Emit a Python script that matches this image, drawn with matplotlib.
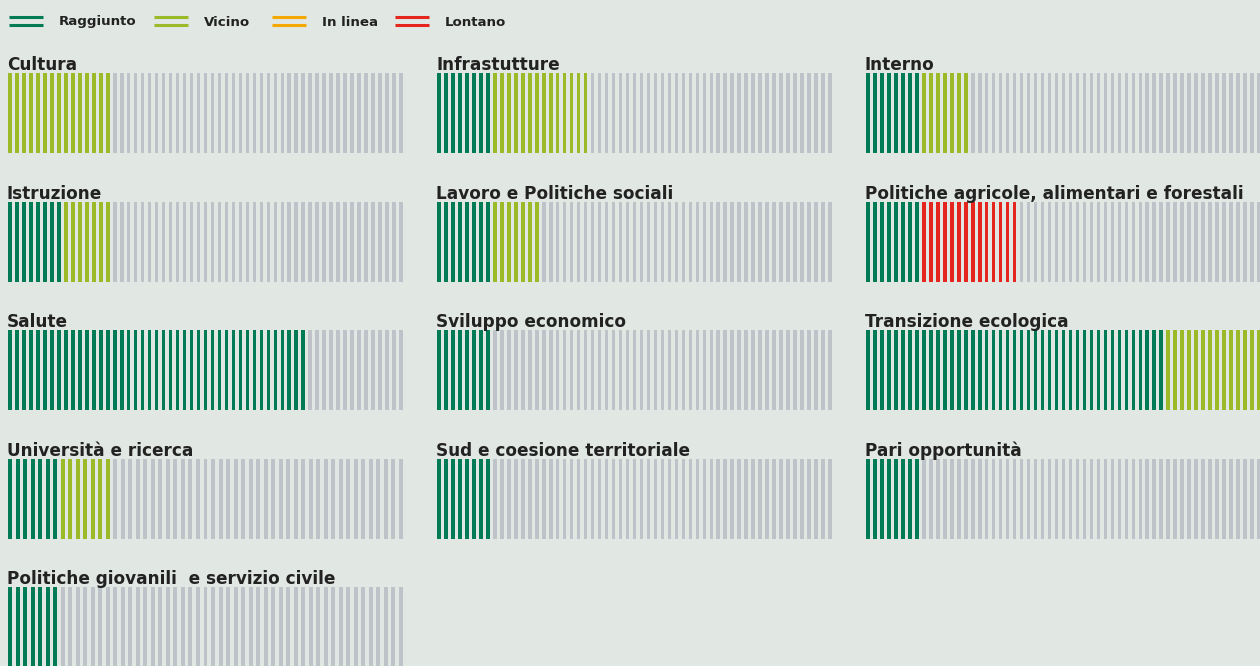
import matplotlib
matplotlib.use("Agg")
import matplotlib.pyplot as plt
import numpy as np


# colours
BG = "#e1e7e3"
C_RAGG = "#007b55"
C_VIC = "#9bba27"
C_LIN = "#f5a800"
C_LON = "#e4261f"
C_GREY = "#bec3c9"

# data: number of targets per state, per ministry
categorie = ["Cultura", "Infrastutture", "Interno",
             "Istruzione", "Lavoro e Politiche sociali", "Politiche agricole, alimentari e forestali",
             "Salute", "Sviluppo economico", "Transizione ecologica",
             "Università e ricerca", "Sud e coesione territoriale", "Pari opportunità",
             "Politiche giovanili  e servizio civile"]
raggiunto = [0, 8, 8, 8, 8, 8, 43, 8, 43, 7, 8, 8, 7]
vicino = [15, 14, 7, 7, 7, 0, 0, 0, 14, 7, 0, 0, 0]
in_linea = [0, 0, 0, 0, 0, 0, 0, 0, 0, 0, 0, 0, 0]
lontano = [0, 0, 0, 0, 0, 14, 0, 0, 0, 0, 0, 0, 0]
totale = [57, 57, 57, 57, 57, 57, 57, 57, 57, 53, 57, 57, 53]

legenda = ["Raggiunto", "Vicino", "In linea", "Lontano"]
legenda_col = [C_RAGG, C_VIC, C_LIN, C_LON]

W, H = 1260, 666
fig = plt.figure(figsize=(W / 100, H / 100), dpi=100)
fig.patch.set_facecolor(BG)
plt.rcParams['font.family'] = ['DejaVu Sans']

col_x = [8, 437, 866]
row_y = [73, 202, 330, 459, 587]
panel_w = 395
panel_h = 80
stripe = 0.53

for k, nome in enumerate(categorie):
    r, c = divmod(k, 3)
    left = col_x[c]
    top = row_y[r]
    ax = fig.add_axes([left / W, 1 - (top + panel_h) / H, panel_w / W, panel_h / H])
    ax.set_facecolor(BG)
    ax.patch.set_alpha(0)
    n = totale[k]
    colori = ([C_RAGG] * raggiunto[k] + [C_VIC] * vicino[k] + [C_LIN] * in_linea[k]
              + [C_LON] * lontano[k])
    colori += [C_GREY] * (n - len(colori))
    x = np.arange(n)
    ax.bar(x, np.ones(n), width=stripe, align="edge", color=colori, linewidth=0)
    ax.set_xlim(0, n - 1 + stripe)
    ax.set_ylim(0, 1)
    ax.axis("off")
    fig.text((left - 1) / W, 1 - (top - 3) / H, nome, fontsize=12.2, fontweight="semibold",
             color="#222222", va="baseline", ha="left")

# legend
lax = fig.add_axes([0, 1 - 40 / H, 1, 40 / H])
lax.set_xlim(0, W)
lax.set_ylim(40, 0)
lax.axis("off")
lx = [9, 154, 272, 395]
for i, lab in enumerate(legenda):
    for yy in (17, 25):
        lax.plot([lx[i], lx[i] + 34], [yy, yy], color=legenda_col[i], lw=2.2, solid_capstyle="butt")
    lax.text(lx[i] + 50, 22, lab, fontsize=9.6, fontweight="semibold", color="#222222",
             va="center", ha="left")

fig.savefig("out.png", dpi=100, facecolor=BG)
